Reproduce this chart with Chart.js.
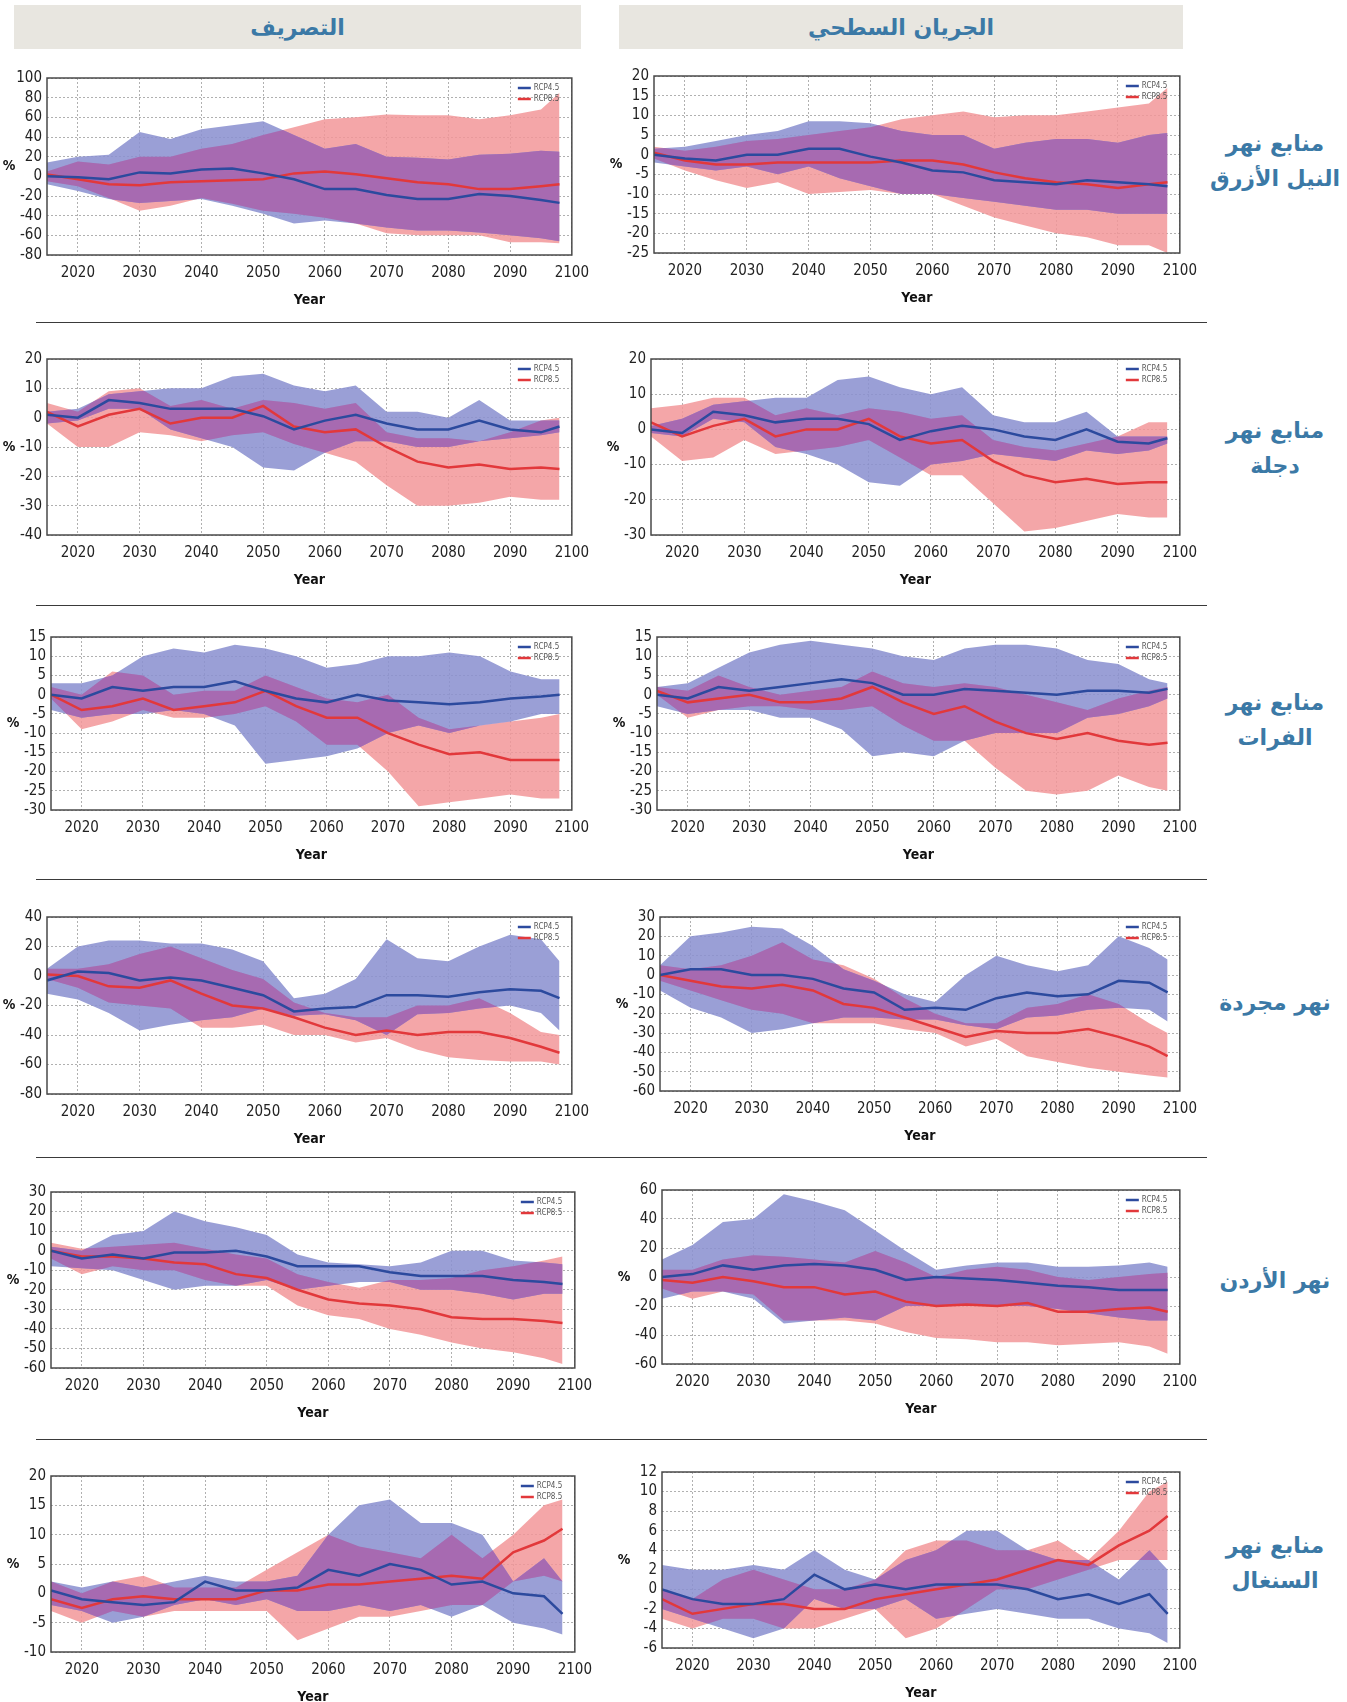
<!DOCTYPE html>
<html lang="ar">
<head>
<meta charset="utf-8">
<title>التصريف والجريان السطحي</title>
<script src="https://cdn.jsdelivr.net/npm/chart.js@4.4.1/dist/chart.umd.min.js"></script>
<style>
  body { margin: 0; background: #fff; width: 1347px; height: 1702px; position: relative; overflow: hidden; }
  .head { position: absolute; top: 5px; height: 44px; background: #e8e6e0; color: #3b79a6;
          font: bold 22px 'DejaVu Sans', sans-serif; display: flex; align-items: center; justify-content: center; direction: rtl; }
  .rule { position: absolute; left: 36px; width: 1171px; height: 0; border-top: 1.5px solid #3a3a3a; }
  .river { position: absolute; left: 1195px; width: 160px; text-align: center; color: #3b79a6;
           font: bold 22px 'DejaVu Sans', sans-serif; direction: rtl; line-height: 35px; }
  .panel { position: absolute; }
</style>
</head>
<body>
<div class="head" style="left:14px;width:567px;">التصريف</div>
<div class="head" style="left:619px;width:564px;">الجريان السطحي</div>

<div class="river" style="top:126px;">منابع نهر<br>النيل الأزرق</div>
<div class="river" style="top:413px;">منابع نهر<br>دجلة</div>
<div class="river" style="top:685px;">منابع نهر<br>الفرات</div>
<div class="river" style="top:985px;">نهر مجردة</div>
<div class="river" style="top:1263px;">نهر الأردن</div>
<div class="river" style="top:1528px;">منابع نهر<br>السنغال</div>

<div class="rule" style="top:322px;"></div>
<div class="rule" style="top:605px;"></div>
<div class="rule" style="top:879px;"></div>
<div class="rule" style="top:1157px;"></div>
<div class="rule" style="top:1439px;"></div>

<script>
// سنوات القراءة (كل 5 سنوات تقريبا)
const YEARS = [2015, 2020, 2025, 2030, 2035, 2040, 2045, 2050, 2055, 2060, 2065, 2070, 2075, 2080, 2085, 2090, 2095, 2098];

// y axis: [min, max, step]
const nileQTicks = [-80, 100, 20];
const nileRTicks = [-25, 20, 5];
const tigrisQTicks = [-40, 20, 10];
const tigrisRTicks = [-30, 20, 10];
const euphQTicks = [-30, 15, 5];
const euphRTicks = [-30, 15, 5];
const medjQTicks = [-80, 40, 20];
const medjRTicks = [-60, 30, 10];
const jordanQTicks = [-60, 30, 10];
const jordanRTicks = [-60, 60, 20];
const senegalQTicks = [-10, 20, 5];
const senegalRTicks = [-6, 12, 2];

// النيل الأزرق - التصريف
const nileQ45   = [0, -1, -3, 4, 3, 7, 8, 3, -3, -13, -13, -19, -23, -23, -18, -20, -24, -27];
const nileQ45Hi = [14, 20, 22, 45, 38, 48, 52, 56, 42, 28, 33, 20, 19, 17, 22, 23, 26, 25];
const nileQ45Lo = [-8, -15, -23, -27, -25, -23, -30, -38, -48, -45, -48, -52, -55, -55, -57, -60, -63, -66];
const nileQ85   = [2, -3, -8, -9, -6, -5, -4, -3, 3, 5, 2, -2, -6, -8, -13, -13, -10, -8];
const nileQ85Hi = [5, 15, 12, 20, 20, 28, 33, 42, 50, 58, 60, 63, 62, 62, 58, 62, 68, 85];
const nileQ85Lo = [-5, -10, -22, -35, -30, -22, -28, -35, -38, -42, -48, -58, -60, -60, -60, -67, -67, -68];

// النيل الأزرق - الجريان السطحي
const nileR45   = [0, -1, -1.5, 0, 0, 1.5, 1.5, -0.5, -2, -4, -4.5, -6.5, -7, -7.5, -6.5, -7, -7.5, -8];
const nileR45Hi = [1.5, 2, 3.5, 5, 6, 8.5, 8.5, 8, 6, 5, 5, 1.5, 3, 4, 4, 3, 5, 5.5];
const nileR45Lo = [-2, -3, -4, -3, -5, -3, -6, -8, -10, -10, -11, -12, -13, -14, -14, -15, -15, -15];
const nileR85   = [0.5, -1.5, -2.5, -2.5, -2, -2, -2, -2, -1.5, -1.5, -2.5, -4.5, -6, -7, -7.5, -8.5, -7.5, -7];
const nileR85Hi = [2, 1, 2, 3.5, 4, 5, 6, 7, 9, 10, 11, 9.5, 10, 10, 11, 12, 13, 17];
const nileR85Lo = [-1, -4, -6.5, -8.5, -7, -10, -9.5, -9, -10, -10, -13, -16, -18, -20, -21, -23, -23, -25];

// دجلة - التصريف
const tigrisQ45   = [1, 0, 6, 5, 3, 3, 3, 0.5, -4, -1, 1, -2, -4, -4, -1, -4, -5, -3];
const tigrisQ45Hi = [2, 3, 8, 9, 10, 10, 14, 15, 11, 9, 11, 2, 2, 0, 6, -1, -1, -1];
const tigrisQ45Lo = [-2, -1, 3, 3, -4, -7, -10, -17, -18, -12, -8, -8, -10, -10, -8, -7, -6, -5];
const tigrisQ85   = [2, -3, 1, 3, -2, 0, 0, 4, -3, -5, -4, -10, -15, -17, -16, -17.5, -17, -17.5];
const tigrisQ85Hi = [5, 2, 9, 10, 4, 6, 3, 6, 5, 3, 5, -5, -7, -7, -8, -5, -1, 0];
const tigrisQ85Lo = [-2, -10, -10, -5, -6, -8, -6, -5, -9, -12, -15, -23, -30, -30, -29, -27, -28, -28];

// دجلة - الجريان السطحي
const tigrisR45   = [0, -1, 5, 4, 2, 3, 3, 1.5, -3, -0.5, 1, 0, -2, -3, 0, -3.5, -4, -2.5];
const tigrisR45Hi = [1, 3, 7, 8, 9, 9, 14, 15, 12, 10, 12, 4, 2, 2, 5, -2, -2, -2];
const tigrisR45Lo = [-1, -2, 3, 2, -5, -7, -10, -15, -16, -10, -9, -7, -8, -9, -6, -7, -6, -4];
const tigrisR85   = [2, -2, 1, 3, -2, 0, 0, 3, -2, -4, -3, -9, -13, -15, -14, -15.5, -15, -15];
const tigrisR85Hi = [6, 7, 9, 9, 4, 6, 4, 6, 5, 3, 4, -3, -5, -6, -4, -2, 2, 2];
const tigrisR85Lo = [-2, -9, -8, -3, -7, -6, -5, -3, -8, -13, -13, -21, -29, -28, -26, -24, -25, -25];

// الفرات - التصريف
const euphQ45   = [0, -1, 2, 1, 2, 2, 3.5, 1, -1, -2, 0, -1.5, -2, -2.5, -2, -1, -0.5, 0];
const euphQ45Hi = [3, 3, 5, 10, 12, 11, 13, 12, 10, 7, 8, 10, 10, 11, 10, 6, 4, 4];
const euphQ45Lo = [-4, -6, -5, -5, -4, -5, -8, -18, -17, -16, -14, -10, -8, -10, -8, -7, -5, -5];
const euphQ85   = [0, -4, -3, -1, -4, -3, -2, 1, -3, -6, -6, -10, -13, -15.5, -15, -17, -17, -17];
const euphQ85Hi = [2, 0, 6, 5, 0, 1, 1, 5, 2, -1, -2, 0, -6, -9, -8, -7, -6, -5];
const euphQ85Lo = [-1, -9, -7, -4, -6, -6, -5, -3, -7, -13, -13, -20, -29, -28, -27, -26, -27, -27];

// الفرات - الجريان السطحي
const euphR45   = [0, -1, 2, 1, 2, 3, 4, 3, 0, 0, 1.5, 1, 0.5, 0, 1, 1, 0.5, 1.5];
const euphR45Hi = [2, 3, 7, 11, 13, 14, 13, 12, 10, 9, 12, 13, 13, 12, 9, 8, 4, 3];
const euphR45Lo = [-3, -5, -4, -4, -6, -6, -9, -16, -15, -16, -12, -10, -10, -10, -6, -5, -3, -1];
const euphR85   = [1, -2, -1, 0, -2, -2, -1, 2, -2, -5, -3, -7, -10, -11.5, -10, -12, -13, -12.5];
const euphR85Hi = [2, 1, 5, 2, 0, 1, 2, 6, 3, 2, 3, 2, 0, -2, -4, -1, 1, 2];
const euphR85Lo = [0, -6, -4, -3, -3, -4, -4, -3, -8, -12, -12, -19, -25, -26, -25, -21, -24, -25];

// مجردة - التصريف
const medjQ45   = [-3, 3, 2, -3, -1, -3, -8, -13, -24, -22, -21, -13, -13, -14, -11, -9, -10, -15];
const medjQ45Hi = [5, 20, 24, 24, 22, 22, 18, 10, -15, -12, -2, 25, 12, 10, 20, 28, 25, 10];
const medjQ45Lo = [-12, -16, -25, -37, -33, -30, -28, -22, -27, -26, -30, -40, -26, -25, -22, -20, -25, -37];
const medjQ85   = [1, 0, -7, -8, -3, -12, -20, -22, -28, -35, -40, -37, -40, -38, -38, -42, -48, -52];
const medjQ85Hi = [5, 5, 8, 15, 20, 12, 4, -2, -18, -25, -28, -28, -20, -20, -15, -25, -38, -40];
const medjQ85Lo = [-2, -8, -18, -20, -22, -35, -35, -33, -40, -40, -45, -42, -50, -55, -57, -58, -58, -60];

// مجردة - الجريان السطحي
const medjR45   = [0, 3, 3, 0, 0, -2, -7, -9, -18, -17, -18, -12, -9, -11, -10, -3, -4, -9];
const medjR45Hi = [5, 20, 22, 25, 24, 15, 3, -3, -10, -14, 0, 10, 5, 2, 5, 20, 14, 8];
const medjR45Lo = [-8, -17, -22, -30, -28, -25, -22, -22, -23, -23, -26, -28, -22, -21, -18, -17, -18, -24];
const medjR85   = [0, -3, -6, -7, -5, -8, -15, -17, -22, -27, -32, -29, -30, -30, -28, -32, -37, -42];
const medjR85Hi = [5, 3, 5, 10, 17, 8, 5, -2, -12, -20, -25, -25, -17, -15, -10, -15, -25, -30];
const medjR85Lo = [-3, -8, -13, -18, -20, -25, -25, -25, -28, -30, -37, -33, -42, -45, -48, -50, -52, -53];

// الأردن - التصريف
const jordanQ45   = [0, -4, -2, -4, -1, -1, 0, -3, -8, -8, -8, -11, -13, -13, -13, -15, -16, -17];
const jordanQ45Hi = [2, 0, 8, 10, 20, 15, 12, 8, -2, -6, -7, -8, -6, 0, 0, -5, -6, -7];
const jordanQ45Lo = [-8, -9, -10, -15, -20, -18, -18, -15, -20, -18, -16, -16, -20, -20, -22, -25, -22, -22];
const jordanQ85   = [0, -3, -3, -4, -6, -7, -12, -14, -20, -25, -27, -28, -30, -34, -35, -35, -36, -37];
const jordanQ85Hi = [4, 1, 2, 3, 4, 1, -2, -4, -12, -16, -19, -15, -15, -14, -10, -8, -5, -3];
const jordanQ85Lo = [-4, -12, -8, -10, -10, -15, -18, -18, -28, -33, -35, -40, -43, -47, -50, -52, -55, -58];

// الأردن - الجريان السطحي
const jordanR45   = [0, 2, 8, 5, 8, 9, 8, 5, -2, 0, -1, -2, -4, -6, -7, -9, -9, -9];
const jordanR45Hi = [12, 22, 38, 40, 57, 52, 46, 32, 18, 5, 8, 10, 10, 7, 7, 8, 10, 7];
const jordanR45Lo = [-15, -10, -10, -15, -32, -30, -28, -30, -20, -20, -20, -20, -20, -22, -25, -28, -30, -30];
const jordanR85   = [-2, -4, 0, -3, -7, -7, -12, -10, -17, -20, -19, -20, -18, -24, -24, -22, -21, -24];
const jordanR85Hi = [5, 5, 12, 15, 14, 12, 10, 18, 10, 0, 5, 7, 5, 0, -2, 0, 2, 3];
const jordanR85Lo = [-8, -15, -10, -12, -30, -30, -30, -32, -38, -42, -43, -45, -45, -47, -46, -45, -48, -53];

// السنغال - التصريف
const senegalQ45   = [0.5, -1, -1.5, -2, -1.5, 2, 0.5, 0.5, 1, 4, 3, 5, 4, 1.5, 2, 0, -0.5, -3.5];
const senegalQ45Hi = [2, 1, 2, 1, 2, 3, 2, 2, 3, 10, 15, 16, 12, 12, 10, 2, 6, 2];
const senegalQ45Lo = [-2, -3, -5, -4, -2, -1, -2, -1, -3, -3, -2, -3, -2, -4, -2, -5, -6, -7];
const senegalQ85   = [-1, -2.5, -1, -0.5, -1, -1, -1, 0.5, 0.5, 1.5, 1.5, 2, 2.5, 3, 2.5, 7, 9, 11];
const senegalQ85Hi = [2, 0, 2, 3, 1, 1, 1, 4, 7, 10, 8, 7, 6, 10, 6, 10, 15, 16];
const senegalQ85Lo = [-3, -5, -3, -4, -3, -3, -3, -3, -8, -6, -4, -4, -3, -2, -2, 2, 3, 2];

// السنغال - الجريان السطحي
const senegalR45   = [0, -1, -1.5, -1.5, -1, 1.5, 0, 0.5, 0, 0.5, 0.5, 0.5, 0, -1, -0.5, -1.5, -0.5, -2.5];
const senegalR45Hi = [2.5, 2, 2, 2.5, 2, 4, 2, 1, 3, 4, 6, 6, 4, 3, 3, 1, 4, 2];
const senegalR45Lo = [-2, -3, -4, -5, -4, -1, -2, -2, -1, -3, -2.5, -2, -2.5, -3, -3, -4, -4.5, -5.5];
const senegalR85   = [-1, -2.5, -2, -1.5, -1.5, -2, -2, -1, -0.5, 0, 0.5, 1, 2, 3, 2.5, 4.5, 6, 7.5];
const senegalR85Hi = [0, -1, 1, 2, 1, 0, 0, 1, 4, 5, 5, 4, 4, 5, 3, 6, 10, 11];
const senegalR85Lo = [-3, -4, -3, -3, -4, -4, -3, -2, -5, -4, -2, 0, 0, 1, 2, 3, 3, 3];

const BLUE = '#2c4a9e';
const RED = '#e2383b';
const BLUE_BAND = 'rgba(140, 146, 208, 0.88)';
const RED_BAND = 'rgba(242, 150, 153, 0.85)';
const BOTH_BAND = 'rgba(168, 102, 174, 0.9)';     // where the two ranges overlap
const NUM_FONT = "'Liberation Sans Narrow', 'DejaVu Sans Condensed', 'Roboto Condensed', Roboto, sans-serif";

// مكان كل رسم: [يسار, أعلى, يمين, أسفل] لمنطقة الرسم
const panels = [
  [[47, 74, 573, 255], nileQTicks, [nileQ45, nileQ45Hi, nileQ45Lo, nileQ85, nileQ85Hi, nileQ85Lo]],
  [[654, 72, 1181, 253], nileRTicks, [nileR45, nileR45Hi, nileR45Lo, nileR85, nileR85Hi, nileR85Lo]],
  [[47, 355, 573, 535], tigrisQTicks, [tigrisQ45, tigrisQ45Hi, tigrisQ45Lo, tigrisQ85, tigrisQ85Hi, tigrisQ85Lo]],
  [[651, 355, 1181, 535], tigrisRTicks, [tigrisR45, tigrisR45Hi, tigrisR45Lo, tigrisR85, tigrisR85Hi, tigrisR85Lo]],
  [[51, 633, 573, 810], euphQTicks, [euphQ45, euphQ45Hi, euphQ45Lo, euphQ85, euphQ85Hi, euphQ85Lo]],
  [[657, 633, 1181, 810], euphRTicks, [euphR45, euphR45Hi, euphR45Lo, euphR85, euphR85Hi, euphR85Lo]],
  [[47, 913, 573, 1094], medjQTicks, [medjQ45, medjQ45Hi, medjQ45Lo, medjQ85, medjQ85Hi, medjQ85Lo]],
  [[660, 913, 1181, 1091], medjRTicks, [medjR45, medjR45Hi, medjR45Lo, medjR85, medjR85Hi, medjR85Lo]],
  [[51, 1188, 576, 1368], jordanQTicks, [jordanQ45, jordanQ45Hi, jordanQ45Lo, jordanQ85, jordanQ85Hi, jordanQ85Lo]],
  [[662, 1186, 1181, 1364], jordanRTicks, [jordanR45, jordanR45Hi, jordanR45Lo, jordanR85, jordanR85Hi, jordanR85Lo]],
  [[51, 1472, 576, 1652], senegalQTicks, [senegalQ45, senegalQ45Hi, senegalQ45Lo, senegalQ85, senegalQ85Hi, senegalQ85Lo]],
  [[662, 1468, 1181, 1648], senegalRTicks, [senegalR45, senegalR45Hi, senegalR45Lo, senegalR85, senegalR85Hi, senegalR85Lo]]
];

const PAD_L = 50, PAD_T = 10, PAD_R = 25, PAD_B = 55;

function pts(arr) {
  return YEARS.map((x, i) => ({ x: x, y: arr[i] }));
}

// path of a band from the library's own element positions (upper meta, lower meta)
function bandPath(ctx, upper, lower) {
  ctx.beginPath();
  upper.forEach((p, i) => (i ? ctx.lineTo(p.x, p.y) : ctx.moveTo(p.x, p.y)));
  for (let i = lower.length - 1; i >= 0; i--) ctx.lineTo(lower[i].x, lower[i].y);
  ctx.closePath();
}

// recolour the intersection of the two bands, right after the blue band is filled
const overlap = {
  id: 'overlap',
  afterDatasetDraw(chart, args) {
    if (args.index !== 2) return;
    const ctx = chart.ctx;
    const m = i => chart.getDatasetMeta(i).data;
    ctx.save();
    bandPath(ctx, m(4), m(5));
    ctx.clip();
    bandPath(ctx, m(2), m(3));
    ctx.fillStyle = BOTH_BAND;
    ctx.fill();
    ctx.restore();
  }
};

// إطار + مفتاح + عناوين المحاور
const decorations = {
  id: 'decorations',
  afterDraw(chart) {
    const { ctx, chartArea: ca } = chart;
    ctx.save();
    ctx.strokeStyle = '#4a4a4a';
    ctx.lineWidth = 1.5;
    ctx.strokeRect(ca.left, ca.top, ca.right - ca.left, ca.bottom - ca.top);

    // legend
    const lx = ca.right - 54;
    [0, 1].forEach(i => {
      const ds = chart.data.datasets[i];
      const ly = ca.top + 10 + i * 11;
      ctx.strokeStyle = ds.borderColor;
      ctx.lineWidth = 2.5;
      ctx.beginPath();
      ctx.moveTo(lx, ly);
      ctx.lineTo(lx + 13, ly);
      ctx.stroke();
      ctx.fillStyle = '#555';
      ctx.font = '8px ' + NUM_FONT;
      ctx.textAlign = 'left';
      ctx.textBaseline = 'middle';
      ctx.fillText(ds.label, lx + 16, ly);
    });

    ctx.fillStyle = '#111';
    ctx.font = 'bold 14px ' + NUM_FONT;
    ctx.textAlign = 'center';
    ctx.textBaseline = 'middle';
    ctx.fillText('Year', (ca.left + ca.right) / 2, ca.bottom + 45);
    ctx.fillText('%', ca.left - 38, (ca.top + ca.bottom) / 2);
    ctx.restore();
  }
};

panels.forEach(([box, ticks, s]) => {
  const [x0, y0, x1, y1] = box;
  const w = x1 - x0 + PAD_L + PAD_R;
  const h = y1 - y0 + PAD_T + PAD_B;
  const canvas = document.createElement('canvas');
  canvas.className = 'panel';
  canvas.width = w;
  canvas.height = h;
  canvas.style.left = (x0 - PAD_L) + 'px';
  canvas.style.top = (y0 - PAD_T) + 'px';
  canvas.style.width = w + 'px';
  canvas.style.height = h + 'px';
  document.body.appendChild(canvas);

  const gridOpts = { color: 'rgba(80, 80, 80, 0.45)', lineWidth: 1, drawTicks: false };
  const borderOpts = { display: false, dash: [2, 2] };

  new Chart(canvas, {
    type: 'line',
    data: {
      datasets: [
        { label: 'RCP4.5', data: pts(s[0]), borderColor: BLUE, borderWidth: 2.5, pointRadius: 0, fill: false, order: 0 },
        { label: 'RCP8.5', data: pts(s[3]), borderColor: RED, borderWidth: 2.5, pointRadius: 0, fill: false, order: 1 },
        { label: '', data: pts(s[1]), borderWidth: 0, pointRadius: 0, backgroundColor: BLUE_BAND, fill: 3, order: 2 },
        { label: '', data: pts(s[2]), borderWidth: 0, pointRadius: 0, fill: false, order: 2 },
        { label: '', data: pts(s[4]), borderWidth: 0, pointRadius: 0, backgroundColor: RED_BAND, fill: 5, order: 3 },
        { label: '', data: pts(s[5]), borderWidth: 0, pointRadius: 0, fill: false, order: 3 }
      ]
    },
    options: {
      responsive: false,
      animation: false,
      devicePixelRatio: 1,
      layout: { padding: { left: 0, top: PAD_T, right: PAD_R, bottom: 0 } },
      plugins: { legend: { display: false }, tooltip: { enabled: false } },
      scales: {
        x: {
          type: 'linear', min: 2015, max: 2100,
          afterFit: sc => { sc.height = PAD_B; },
          ticks: { stepSize: 10, includeBounds: false, autoSkip: false, padding: 9, maxRotation: 0, color: '#222',
                   font: { family: NUM_FONT, size: 15 }, callback: v => String(v) },
          grid: gridOpts, border: borderOpts
        },
        y: {
          min: ticks[0], max: ticks[1],
          afterFit: sc => { sc.width = PAD_L; },
          ticks: { stepSize: ticks[2], autoSkip: false, padding: 5, color: '#222',
                   font: { family: NUM_FONT, size: 15 }, callback: v => String(v) },
          grid: gridOpts, border: borderOpts
        }
      }
    },
    plugins: [overlap, decorations]
  });
});
</script>
</body>
</html>
